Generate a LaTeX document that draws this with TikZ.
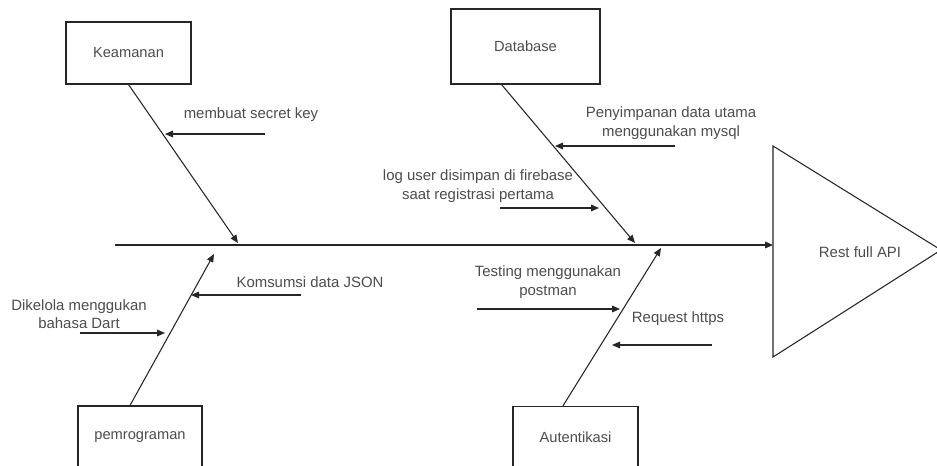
\documentclass[tikz,border=0pt]{standalone}
\usepackage{fontspec}
\setmainfont{Liberation Sans}
\usetikzlibrary{arrows.meta,calc}

\begin{document}
\begin{tikzpicture}[x=0.75pt,y=-0.75pt,
  line/.style={draw=black!85,line width=0.8pt},
  arr/.style={line,-{Triangle[length=6pt,width=5pt]}},
  box/.style={draw=black!85,line width=0.8pt,inner sep=0pt,text=black!70,font=\fontsize{11}{13}\selectfont},
  lbl/.style={text=black!70,font=\fontsize{11.2}{14}\selectfont,align=center,inner sep=0pt}
]
\useasboundingbox (0,0) rectangle (937,466);
\clip (0,0) rectangle (937,466);

% category boxes
\node[box,minimum width=93.75pt,minimum height=46.5pt] (kea) at (128.5,53) {Keamanan};
\node[box,minimum width=111.75pt,minimum height=56.25pt] (db) at (525.5,46.5) {Database};
\node[box,minimum width=93pt,minimum height=46.5pt] (pem) at (140,437) {pemrograman};
\node[box,minimum width=93.75pt,minimum height=46.5pt] (aut) at (575.5,437.5) {Autentikasi};

% effect (head of the fish)
\coordinate (tl) at (773,146);
\coordinate (tb) at (773,357);
\coordinate (tt) at (941,250);
\draw[line] (tl) -- (tt) -- (tb) -- cycle;
\node[lbl] (api) at (860,252) {Rest full API};

% spine
\coordinate (s0) at (115,245);
\draw[arr] (s0) -- (tl |- s0);

% branch end points on the spine
\coordinate (kEnd) at (238,243);
\coordinate (dEnd) at (635,243);
\coordinate (pEnd) at (214,254);
\coordinate (aEnd) at (661,248);

\draw[arr] ($(kea.south west)!0.5!(kea.south east)$) -- (kEnd);
\draw[arr] ($(db.south west)!0.34!(db.south east)$) -- (dEnd);
\draw[arr] ($(pem.north west)!0.42!(pem.north east)$) -- (pEnd);
\draw[arr] ($(aut.north west)!0.40!(aut.north east)$) -- (aEnd);

% causes
\node[lbl] (c1) at (251,115) {membuat secret key};
\coordinate (c1a) at (265,134); \coordinate (c1b) at (165,134);
\draw[arr] (c1a) -- (c1b);

\node[lbl] (c2) at (671,123) {Penyimpanan data utama\\menggunakan mysql};
\coordinate (c2a) at (675,146); \coordinate (c2b) at (555,146);
\draw[arr] (c2a) -- (c2b);

\node[lbl] (c3) at (478,186) {log user disimpan di firebase\\saat registrasi pertama};
\coordinate (c3a) at (500,208); \coordinate (c3b) at (599,208);
\draw[arr] (c3a) -- (c3b);

\node[lbl] (c4) at (310,282) {Komsumsi data JSON};
\coordinate (c4a) at (301,295); \coordinate (c4b) at (191,295);
\draw[arr] (c4a) -- (c4b);

\node[lbl] (c5) at (79,314) {Dikelola menggukan\\bahasa Dart};
\coordinate (c5a) at (80,333); \coordinate (c5b) at (165,333);
\draw[arr] (c5a) -- (c5b);

\node[lbl] (c6) at (548,282) {Testing menggunakan\\postman};
\coordinate (c6a) at (477,309); \coordinate (c6b) at (620,309);
\draw[arr] (c6a) -- (c6b);

\node[lbl] (c7) at (678,319) {Request https};
\coordinate (c7a) at (712,345); \coordinate (c7b) at (612,345);
\draw[arr] (c7a) -- (c7b);
\end{tikzpicture}
\end{document}
